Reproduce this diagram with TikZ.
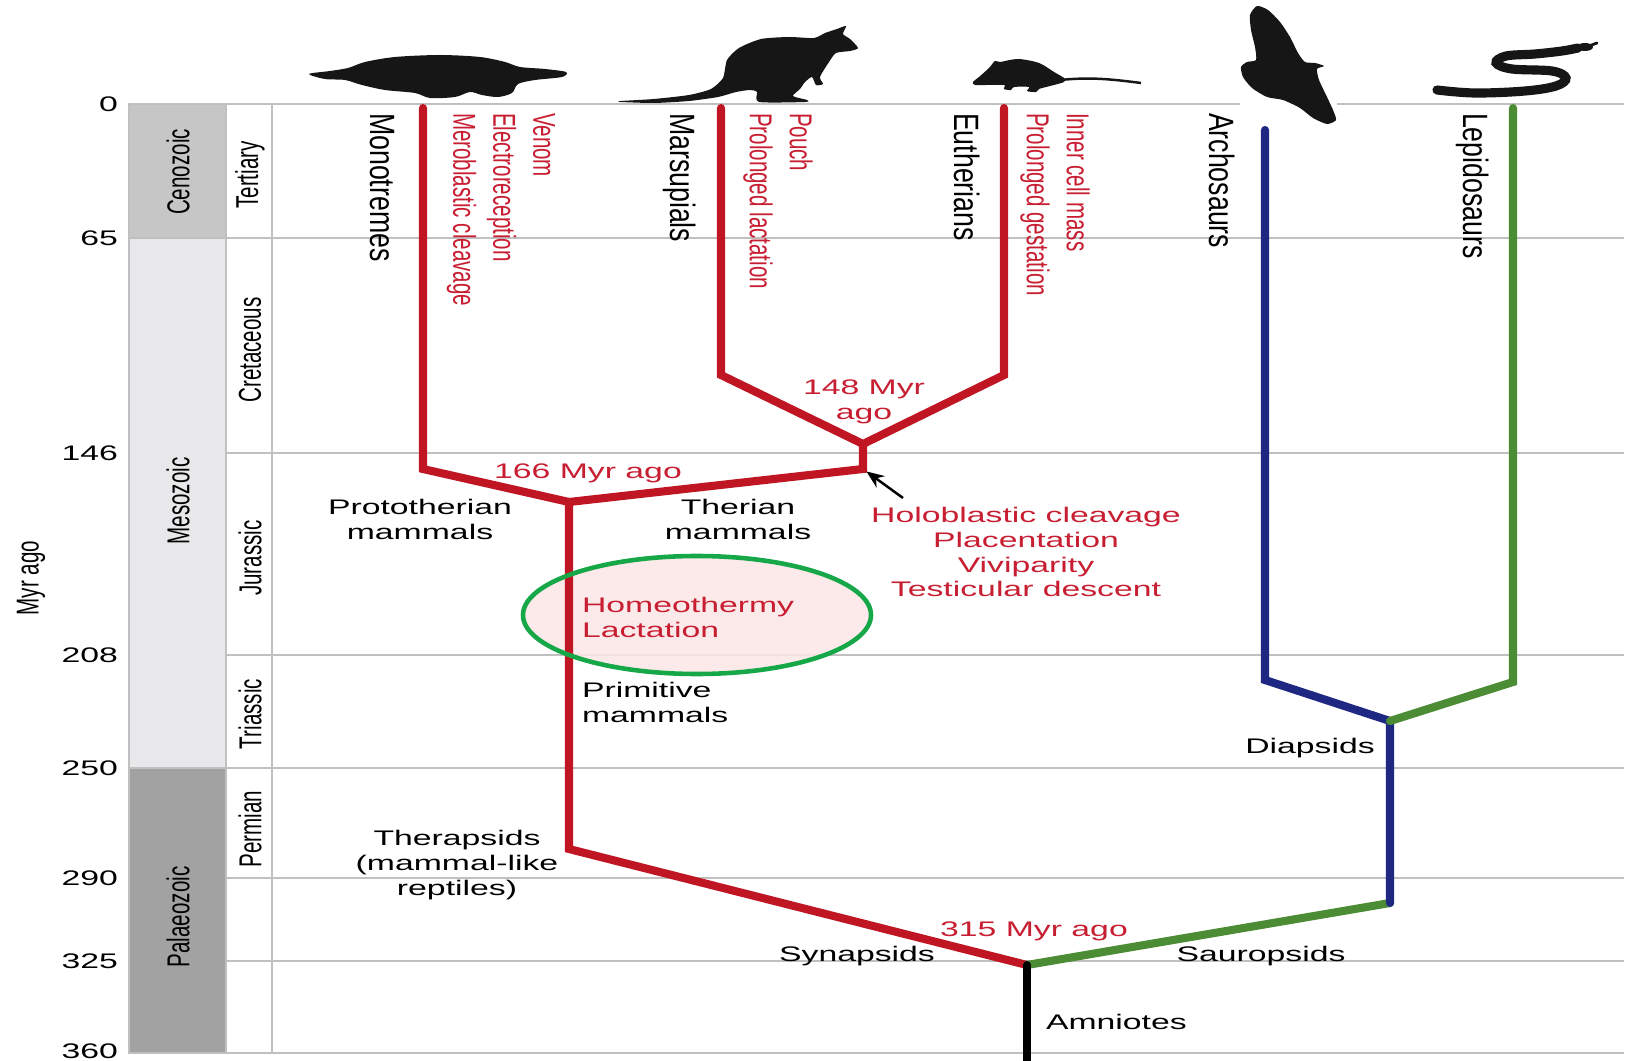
\documentclass[tikz,border=0pt]{standalone}
\usepackage{fontspec}
\setmainfont{Liberation Sans}
\newfontfamily\widefont[FakeStretch=1.6]{Liberation Sans}
\newfontfamily\narrowfont[FakeStretch=0.65]{Liberation Sans}
\newfontfamily\taxonfont[FakeStretch=0.76]{Liberation Sans}
\usepackage{tikz}
\usetikzlibrary{arrows}
\usetikzlibrary{arrows.meta}
\usetikzlibrary{positioning}
\definecolor{mammalred}{RGB}{192,22,36}
\definecolor{traitred}{RGB}{200,30,50}
\definecolor{archoblue}{RGB}{30,40,130}
\definecolor{saurgreen}{RGB}{76,140,52}
\definecolor{ringgreen}{RGB}{22,168,72}
\definecolor{ringfill}{RGB}{252,230,230}
\definecolor{gridgray}{RGB}{192,192,192}
\definecolor{cenogray}{RGB}{198,198,198}
\definecolor{mesogray}{RGB}{232,232,234}
\definecolor{paleogray}{RGB}{162,162,162}
\definecolor{inkblack}{RGB}{22,22,22}
\tikzset{branch/.style={line width=2.3pt, line join=miter, line cap=round}}

\begin{document}
\begin{tikzpicture}[x=0.01cm, y=-0.01cm, >=stealth', semithick]
\tikzstyle{gridline} = [draw=gridgray, line width=0.55pt]
\tikzstyle{agenum} = [font=\widefont\fontsize{6pt}{7pt}\selectfont, anchor=east, inner sep=0pt]
\tikzstyle{eralab} = [font=\narrowfont\fontsize{9pt}{11pt}\selectfont, rotate=90, inner sep=0pt]
\tikzstyle{taxon} = [font=\taxonfont\fontsize{10pt}{12pt}\selectfont, rotate=-90, anchor=west, inner sep=0pt]
\tikzstyle{trait} = [font=\narrowfont\fontsize{9pt}{11.4pt}\selectfont, text=traitred, rotate=-90, anchor=west, align=left, inner sep=0pt]
\tikzstyle{clade} = [font=\widefont\fontsize{6pt}{7.1pt}\selectfont, align=center, inner sep=0pt]
\tikzstyle{cladetrait} = [clade, text=traitred]
\tikzstyle{mammal} = [branch, draw=mammalred]
\tikzstyle{archo} = [branch, draw=archoblue]
\tikzstyle{saur} = [branch, draw=saurgreen]
\tikzstyle{amniote} = [branch, draw=black]
\tikzstyle{pointer} = [-{Stealth[length=5pt,width=4pt]}, line width=0.7pt, draw=black]
\tikzstyle{animal} = [fill=inkblack]

\useasboundingbox (0,0) rectangle (1627,1061);
\fill[white] (0,0) rectangle (1627,1061);

\filldraw[fill=cenogray, draw=gridgray, line width=0.4pt] (129,104) rectangle (226,238);
\filldraw[fill=mesogray, draw=gridgray, line width=0.4pt] (129,238) rectangle (226,768);
\filldraw[fill=paleogray, draw=gridgray, line width=0.4pt] (129,768) rectangle (226,1053);

\foreach \y in {104,238,453,655,768,878,961,1053}
{
   \draw[gridline] (226,\y) -- (1624,\y);
}
\draw[gridline] (226,104) -- (226,1053);
\draw[gridline] (272,104) -- (272,1053);

\foreach \y/\age in {104/0,238/65,453/146,655/208,768/250,878/290,961/325,1051/360}
{
   \node[agenum] (age\age) at (119,\y) {\age};
}
\node[eralab] (myr) at (31,578) {Myr ago};

\node[eralab] (ceno) at (178,172) {Cenozoic};
\node[eralab] (meso) at (178,501) {Mesozoic};
\node[eralab] (paleo) at (178,917) {Palaeozoic};
\foreach \y/\per in {175/Tertiary,350/Cretaceous,558/Jurassic,714/Triassic,829/Permian}
{
   \node[eralab] (\per) at (250,\y) {\per};
}

\fill[ringfill, fill opacity=0.85] (697,615) ellipse [x radius=174, y radius=59];

\coordinate (monoTip) at (423,108);
\coordinate (monoBend) at (423,469);
\coordinate (protoNode) at (569,502);
\coordinate (marsuTip) at (721,108);
\coordinate (marsuBend) at (721,375);
\coordinate (eutheTip) at (1004,108);
\coordinate (eutheBend) at (1004,375);
\coordinate (theriaTop) at (863,444);
\coordinate (theriaNode) at (863,469);
\coordinate (therBend) at (569,849);
\coordinate (amnioNode) at (1027,965);
\coordinate (amnioRoot) at (1027,1066);
\coordinate (sauroBend) at (1390,903);
\coordinate (diapNode) at (1390,721);
\coordinate (archoBend) at (1265,680);
\coordinate (archoTip) at (1265,130);
\coordinate (lepidoBend) at (1513,682);
\coordinate (lepidoTip) at (1513,108);

\draw[mammal] (monoTip) -- (monoBend) -- (protoNode) -- (therBend) -- (amnioNode);
\draw[mammal] (protoNode) -- (theriaNode) -- (theriaTop);
\draw[mammal] (marsuTip) -- (marsuBend) -- (theriaTop) -- (eutheBend) -- (eutheTip);
\draw[saur] (amnioNode) -- (sauroBend);
\draw[archo] (sauroBend) -- (diapNode) -- (archoBend) -- (archoTip);
\draw[saur] (diapNode) -- (lepidoBend) -- (lepidoTip);
\draw[amniote] (amnioNode) -- (amnioRoot);

\draw[ringgreen, line width=1.3pt] (697,615) ellipse [x radius=174, y radius=59];

\node[taxon] (monoLab) at (382,112) {Monotremes};
\node[trait] (monoTraits) at (501,112) {Venom\\Electroreception\\Meroblastic cleavage};
\node[taxon] (marsuLab) at (680,112) {Marsupials};
\node[trait] (marsuTraits) at (778,112) {Pouch\\Prolonged lactation};
\node[taxon] (eutheLab) at (967,112) {Eutherians};
\node[trait] (eutheTraits) at (1055,112) {Inner cell mass\\Prolonged gestation};
\node[taxon] (archoLab) at (1222,112) {Archosaurs};
\node[taxon] (lepidoLab) at (1473,112) {Lepidosaurs};

\node[clade] (protoLab) at (420,519) {Prototherian\\mammals};
\node[clade] (theriLab) at (738,519) {Therian\\mammals};
\node[cladetrait] (age166) at (588,473) {166 Myr ago};
\node[cladetrait] (age148) at (864,402) {148 Myr\\ago};
\node[cladetrait] (placental) at (1026,552) {Holoblastic cleavage\\Placentation\\Viviparity\\Testicular descent};
\node[cladetrait, align=left, anchor=west] (warmLab) at (581,617) {Homeothermy\\Lactation};
\node[clade, align=left, anchor=west] (primLab) at (581,702) {Primitive\\mammals};
\node[clade] (therapLab) at (457,865) {Therapsids\\(mammal-like\\reptiles)};
\node[cladetrait] (age315) at (1034,931) {315 Myr ago};
\node[clade] (synLab) at (857,956) {Synapsids};
\node[clade] (sauLab) at (1261,956) {Sauropsids};
\node[clade, anchor=west] (amnLab) at (1045,1022) {Amniotes};
\node[clade] (diapLab) at (1310,748) {Diapsids};

\coordinate (pointTail) at (903,498);
\draw[pointer, shorten >=1.2pt] (pointTail) -- (theriaNode);

\fill[animal] plot[smooth cycle, tension=0.5] coordinates {(309,74) (330,71) (348,68) (365,62) (395,57) (440,55) (480,57) (505,62) (520,67) (545,69) (566,72) (562,77) (535,80) (518,84) (512,93) (498,97) (482,95) (470,92) (455,97) (430,98) (415,93) (385,90) (362,85) (345,80) (325,79)};

\fill[animal] plot[smooth cycle, tension=0.4] coordinates {(621,101) (654,99) (689,95) (711,89) (723,78) (727,60) (739,48) (761,39) (789,37) (814,38) (825,33) (837,29) (846,26) (843,34) (850,39) (858,48) (850,51) (836,53) (829,62) (820,77) (823,84) (816,85) (812,77) (805,82) (800,89) (793,96) (807,100) (805,102) (759,102) (757,92) (750,90) (736,92) (718,97) (689,101) (654,103) (621,102)};

\fill[animal] plot[smooth cycle, tension=0.5] coordinates {(973,82) (979,77) (989,68) (995,61) (1000,62) (1018,59) (1039,63) (1054,72) (1064,78) (1064,82) (1050,86) (1039,89) (1036,92) (1027,91) (1029,87) (1014,87) (1011,90) (1004,89) (1004,85) (986,85) (975,85)};
\draw[inkblack, line width=0.7pt] (1060,80) .. controls (1090,77) and (1110,79) .. (1141,83);

\fill[white] (1240,97) rectangle (1337,111);
\fill[animal] plot[smooth cycle, tension=0.4] coordinates {(1257,6) (1268,10) (1280,22) (1290,37) (1298,53) (1305,62) (1315,63) (1324,66) (1317,69) (1319,80) (1327,97) (1333,110) (1336,120) (1327,124) (1313,118) (1300,108) (1283,100) (1267,97) (1252,88) (1243,77) (1241,67) (1247,62) (1256,60) (1255,47) (1251,30) (1250,15)};

\draw[inkblack, line width=2.6pt, line cap=round] plot[smooth, tension=0.6] coordinates {(1437,90) (1475,93) (1525,91) (1556,86) (1566,78) (1552,71) (1512,69) (1496,63) (1506,56) (1535,54) (1562,51) (1578,48)};
\fill[animal] (1585,47) ellipse [x radius=8, y radius=4];
\draw[inkblack, line width=0.8pt, line cap=round] (1589,46) -- (1597,43);

\end{tikzpicture}
\end{document}
